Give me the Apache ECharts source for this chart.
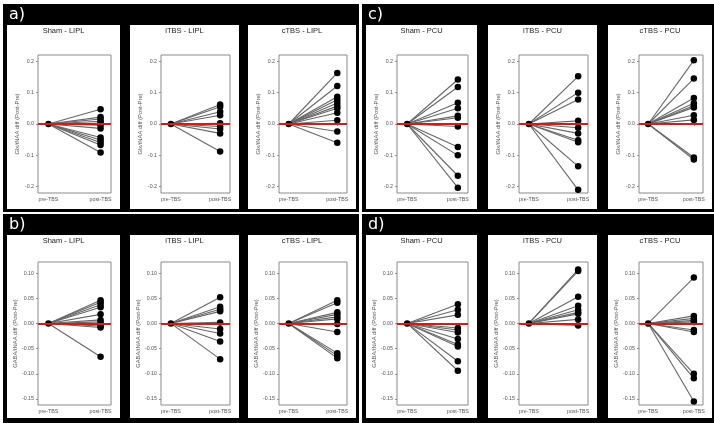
<!DOCTYPE html>
<html><head><meta charset="utf-8">
<script src="https://cdn.jsdelivr.net/npm/echarts@6/dist/echarts.min.js"></script>
<style>
html,body{margin:0;padding:0;background:#fff;}
#wrap{position:relative;width:714px;height:423px;background:#fff;overflow:hidden;}
.blk{position:absolute;background:#000;}
.pnl{position:absolute;background:#fff;}
#chart{position:absolute;left:0;top:0;width:714px;height:423px;}
</style></head><body>
<div id="wrap"><div id="chart"></div></div>
<script>
// ---------- data ----------
const categories = ['pre-TBS', 'post-TBS'];
const preDiff = 0;
const panelTitles = ['Sham - LIPL', 'iTBS - LIPL', 'cTBS - LIPL', 'Sham - PCU', 'iTBS - PCU', 'cTBS - PCU'];
const quadrantLabels = ['a)', 'c)', 'b)', 'd)'];
const glxName = 'Glx/tNAA diff (Post-Pre)';
const gabaName = 'GABA/tNAA diff (Post-Pre)';
const glxTicks = [-0.2, -0.1, 0.0, 0.1, 0.2];
const gabaTicks = [-0.15, -0.10, -0.05, 0.00, 0.05, 0.10];

const glx_sham_lipl = [0.047, 0.022, 0.016, 0.009, 0.002, -0.004, -0.014, -0.043, -0.051, -0.059, -0.067, -0.091];
const glx_itbs_lipl = [0.062, 0.055, 0.039, 0.028, 0.002, -0.008, -0.016, -0.030, -0.088];
const glx_ctbs_lipl = [0.163, 0.121, 0.087, 0.077, 0.067, 0.057, 0.050, 0.036, 0.012, -0.024, -0.060];
const glx_sham_pcu = [0.142, 0.118, 0.068, 0.050, 0.026, 0.020, -0.008, -0.073, -0.100, -0.165, -0.203];
const glx_itbs_pcu = [0.152, 0.100, 0.078, 0.010, -0.012, -0.030, -0.052, -0.058, -0.135, -0.210];
const glx_ctbs_pcu = [0.203, 0.145, 0.083, 0.066, 0.058, 0.053, 0.028, 0.013, -0.107, -0.113];

const gaba_sham_lipl = [0.046, 0.042, 0.037, 0.032, 0.018, 0.007, 0.003, -0.002, -0.005, -0.008, -0.066];
const gaba_itbs_lipl = [0.052, 0.033, 0.028, 0.024, 0.002, -0.011, -0.020, -0.036, -0.071];
const gaba_ctbs_lipl = [0.046, 0.041, 0.022, 0.018, 0.013, 0.009, -0.001, -0.017, -0.059, -0.064, -0.069];
const gaba_sham_pcu = [0.038, 0.027, 0.017, -0.009, -0.013, -0.018, -0.031, -0.042, -0.046, -0.075, -0.094];
const gaba_itbs_pcu = [0.107, 0.104, 0.053, 0.035, 0.027, 0.022, 0.019, 0.008, -0.004];
const gaba_ctbs_pcu = [0.091, 0.015, 0.010, 0.006, 0.003, -0.013, -0.017, -0.100, -0.109, -0.155];

const glxRows = [glx_sham_lipl, glx_itbs_lipl, glx_ctbs_lipl, glx_sham_pcu, glx_itbs_pcu, glx_ctbs_pcu];
const gabaRows = [gaba_sham_lipl, gaba_itbs_lipl, gaba_ctbs_lipl, gaba_sham_pcu, gaba_itbs_pcu, gaba_ctbs_pcu];

// ---------- layout ----------
const cols = [[7, 120], [130, 239], [248, 356], [366, 477], [488, 597], [608, 712]];
const rows = [[25, 209], [235, 418]];
const quads = [[3, 4, 359, 212], [362, 4, 714, 212], [3, 214, 359, 423], [362, 214, 714, 423]];
const wrap = document.getElementById('wrap');
function addDiv(cls, x0, y0, x1, y1) {
  const d = document.createElement('div');
  d.className = cls;
  d.style.left = x0 + 'px'; d.style.top = y0 + 'px';
  d.style.width = (x1 - x0) + 'px'; d.style.height = (y1 - y0) + 'px';
  wrap.insertBefore(d, document.getElementById('chart'));
}
quads.forEach(q => addDiv('blk', q[0], q[1], q[2], q[3]));
rows.forEach(r => cols.forEach(c => addDiv('pnl', c[0], r[0], c[1], r[1])));

const FONT = 'Liberation Sans, Arial, sans-serif';
const grids = [], xAxes = [], yAxes = [], series = [], graphics = [];
let idx = 0;
rows.forEach((r, ri) => {
  const isGlx = ri === 0;
  const dataRows = isGlx ? glxRows : gabaRows;
  const ticks = isGlx ? glxTicks : gabaTicks;
  const dec = isGlx ? 1 : 2;
  const ymin = isGlx ? -0.22 : -0.162;
  const ymax = isGlx ? 0.22 : 0.122;
  const topOff = isGlx ? 30 : 27;
  const botOff = isGlx ? 16 : 13;
  cols.forEach((c, ci) => {
    const vals = dataRows[ci];
    const left = c[0] + 31, right = c[1] - 9;
    const top = r[0] + topOff, bottom = r[1] - botOff;
    grids.push({ left: left, top: top, width: right - left, height: bottom - top,
      show: true, borderColor: '#8a8a8a', borderWidth: 1, backgroundColor: 'transparent', containLabel: false });
    xAxes.push({ type: 'value', gridIndex: idx, min: 0.8, max: 2.2,
      axisLine: { show: false }, splitLine: { show: false },
      axisTick: { show: true, customValues: [1, 2], length: 2, lineStyle: { color: '#777', width: 0.8 } },
      axisLabel: { customValues: [1, 2], margin: 4, fontSize: 5.3, color: '#555', fontFamily: FONT,
        formatter: v => categories[Math.round(v) - 1] } });
    yAxes.push({ type: 'value', gridIndex: idx, min: ymin, max: ymax,
      axisLine: { show: false }, splitLine: { show: false },
      axisTick: { show: true, customValues: ticks, length: 2, lineStyle: { color: '#777', width: 0.8 } },
      axisLabel: { customValues: ticks, margin: 4, fontSize: 5.3, color: '#555', fontFamily: FONT,
        formatter: v => v.toFixed(dec) },
      name: isGlx ? glxName : gabaName, nameLocation: 'middle', nameGap: 18, nameRotate: 90,
      nameTextStyle: { fontSize: 5.8, color: '#555', fontFamily: FONT } });
    series.push({ type: 'lines', coordinateSystem: 'cartesian2d', xAxisIndex: idx, yAxisIndex: idx,
      z: 2, silent: true, animation: false,
      lineStyle: { color: '#666', width: 1.1, opacity: 1, curveness: 0 },
      data: vals.map(v => ({ coords: [[1, preDiff], [2, v]] })) });
    series.push({ type: 'scatter', xAxisIndex: idx, yAxisIndex: idx, z: 3, silent: true,
      symbolSize: 6.5, itemStyle: { color: '#000', opacity: 1 },
      data: [[1, preDiff]].concat(vals.map(v => [2, v])),
      markLine: { silent: true, symbol: 'none', animation: false, label: { show: false },
        lineStyle: { color: '#d01c1c', width: 1.8, type: 'solid' }, data: [{ yAxis: 0 }] } });
    graphics.push({ type: 'text', x: (c[0] + c[1]) / 2, y: r[0] + 6, silent: true,
      style: { text: panelTitles[ci], fill: '#222', font: '7.5px ' + FONT, textAlign: 'center', textVerticalAlign: 'middle' } });
    idx++;
  });
});
quads.forEach((q, qi) => {
  graphics.push({ type: 'text', x: q[0] + 6, y: q[1] + 11, silent: true,
    style: { text: quadrantLabels[qi], fill: '#fff', font: '16px DejaVu Sans, sans-serif', textAlign: 'left', textVerticalAlign: 'middle' } });
});

const chart = echarts.init(document.getElementById('chart'), null, { renderer: 'canvas' });
chart.setOption({
  backgroundColor: 'transparent',
  animation: false,
  grid: grids, xAxis: xAxes, yAxis: yAxes, series: series,
  graphic: { elements: graphics }
});
</script>
</body></html>
